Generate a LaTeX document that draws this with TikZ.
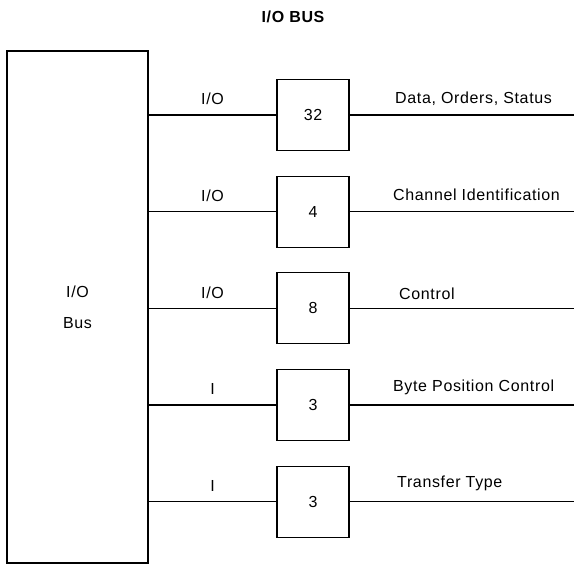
\documentclass[tikz,border=0pt]{standalone}
\usepackage{fontspec}
\setmainfont{Liberation Sans}[LetterSpace=4]
\usetikzlibrary{positioning}

\begin{document}
\begin{tikzpicture}[x=1pt, y=-1pt, node distance=24.5pt,
        line width=1.2pt,
        bus/.style={rectangle, draw, minimum width=141pt, minimum height=512pt, align=center, font=\fontsize{16}{31}\selectfont},
        block/.style={rectangle, draw, minimum width=72pt, minimum height=71pt, font=\fontsize{16}{18}\selectfont},
        lbl/.style={font=\fontsize{16}{18}\selectfont, inner sep=0pt}]

        \useasboundingbox (0,0) rectangle (574,564);

        \node[font=\fontsize{16}{18}\selectfont\bfseries] (title) at (293,16.5) {I/O BUS};

        \node[bus] (iobus) at (77.5,307) {I/O\\Bus};

        \node[block] (dat) at (313,115) {32};
        \node[block, below=of dat] (chan) {4};
        \node[block, below=of chan] (ctrl) {8};
        \node[block, below=of ctrl] (bpos) {3};
        \node[block, below=of bpos] (ttype) {3};

        \coordinate (rim) at (574,0);

        \draw (iobus.east |- dat) -- node[lbl, pos=0.5, yshift=16pt] (ldat) {I/O} (dat);
        \draw (iobus.east |- chan) -- node[lbl, pos=0.5, yshift=16pt] (lchan) {I/O} (chan);
        \draw (iobus.east |- ctrl) -- node[lbl, pos=0.5, yshift=16pt] (lctrl) {I/O} (ctrl);
        \draw (iobus.east |- bpos) -- node[lbl, pos=0.5, yshift=16pt] (lbpos) {I} (bpos);
        \draw (iobus.east |- ttype) -- node[lbl, pos=0.5, yshift=16pt] (lttype) {I} (ttype);

        \draw (dat) -- (dat -| rim);
        \draw (chan) -- (chan -| rim);
        \draw (ctrl) -- (ctrl -| rim);
        \draw (bpos) -- (bpos -| rim);
        \draw (ttype) -- (ttype -| rim);

        \node[lbl, anchor=west] (odat) at ([xshift=45pt, yshift=16pt]dat.east) {Data, Orders, Status};
        \node[lbl, anchor=west] (ochan) at ([xshift=43pt, yshift=17pt]chan.east) {Channel Identification};
        \node[lbl, anchor=west] (octrl) at ([xshift=49pt, yshift=15pt]ctrl.east) {Control};
        \node[lbl, anchor=west] (obpos) at ([xshift=43pt, yshift=18pt]bpos.east) {Byte Position Control};
        \node[lbl, anchor=west] (ottype) at ([xshift=47pt, yshift=18pt]ttype.east) {Transfer Type};
    \end{tikzpicture}
\end{document}
